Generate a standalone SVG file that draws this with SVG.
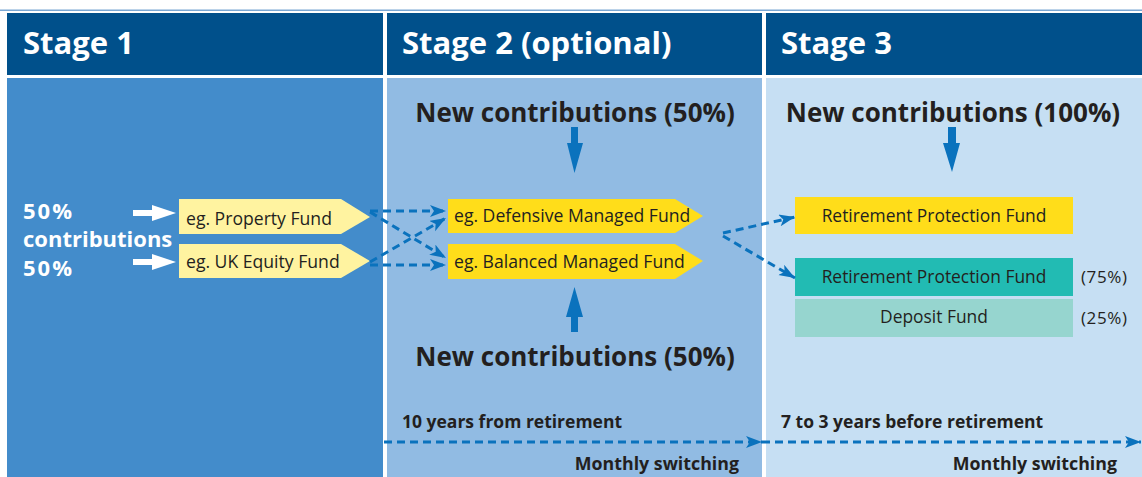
<svg xmlns="http://www.w3.org/2000/svg" width="1142" height="477" viewBox="0 0 1142 477">
<style>
.hdr{fill:#00508b}
.htxt{font-family:"Open Sans","Noto Sans",sans-serif;font-weight:bold;font-size:31px;fill:#ffffff}
.big{font-family:"Open Sans","Noto Sans",sans-serif;font-weight:bold;font-size:26px;fill:#231f20;text-anchor:middle}
.fund{font-family:"Open Sans","Noto Sans",sans-serif;font-size:17.6px;fill:#231f20}
.fundc{font-family:"Open Sans","Noto Sans",sans-serif;font-size:17.4px;fill:#231f20;text-anchor:middle}
.pct{font-family:"Open Sans","Noto Sans",sans-serif;font-size:17px;fill:#231f20;letter-spacing:0.6px}
.lab{font-family:"Open Sans","Noto Sans",sans-serif;font-weight:bold;font-size:17.5px;fill:#231f20}
.labr{font-family:"Open Sans","Noto Sans",sans-serif;font-weight:bold;font-size:17.8px;fill:#231f20;text-anchor:end}
.wlab{font-family:"Open Sans","Noto Sans",sans-serif;font-weight:bold;font-size:22px;fill:#ffffff}
.dash{fill:none;stroke:#0a72bd;stroke-width:3;stroke-dasharray:8 5;marker-end:url(#ah)}
.solid{fill:#0a72bd}
</style>
<defs>
<marker id="ah" markerUnits="userSpaceOnUse" markerWidth="20" markerHeight="16" refX="16" refY="6" orient="auto">
<path d="M0,0 L16,6 L0,12 L4,6 Z" fill="#0a72bd"/>
</marker>
</defs>
<rect x="0" y="0" width="1142" height="477" fill="#ffffff"/>
<rect x="0" y="9.5" width="1142" height="1.5" fill="#7ba7d3"/>
<g id="columns">
<rect x="7" y="13" width="376" height="62" class="hdr"/>
<rect x="387" y="13" width="375" height="62" class="hdr"/>
<rect x="766" y="13" width="376" height="62" class="hdr"/>
<rect x="7" y="78" width="376" height="399" fill="#438ccb"/>
<rect x="387" y="78" width="375" height="399" fill="#91bbe3"/>
<rect x="766" y="78" width="376" height="399" fill="#c6dff3"/>
<text x="23" y="54" class="htxt">Stage 1</text>
<text x="402" y="54" class="htxt">Stage 2 (optional)</text>
<text x="781" y="54" class="htxt">Stage 3</text>
</g>
<g id="stage1-label">
<text x="23" y="219" class="wlab" letter-spacing="2">50%</text>
<text x="23" y="247" class="wlab">contributions</text>
<text x="23" y="276" class="wlab" letter-spacing="2">50%</text>
<polygon points="133,210 152,210 152,205 176,213 152,221 152,216 133,216" fill="#ffffff"/>
<polygon points="133,259 152,259 152,254 176,262 152,270 152,265 133,265" fill="#ffffff"/>
</g>
<g id="property-fund">
<polygon points="179,199 341,199 370,217 341,234 179,234" fill="#fff3a0"/>
<text x="186" y="225" class="fund">eg. Property Fund</text>
</g>
<g id="uk-equity-fund">
<polygon points="179,244 341,244 370,261 341,278 179,278" fill="#fff3a0"/>
<text x="186" y="268" class="fund">eg. UK Equity Fund</text>
</g>
<g id="defensive-fund">
<polygon points="448,199 675,199 703,216 675,233 448,233" fill="#ffdd1a"/>
<text x="454" y="222" class="fund">eg. Defensive Managed Fund</text>
</g>
<g id="balanced-fund">
<polygon points="448,244 675,244 703,261 675,279 448,279" fill="#ffdd1a"/>
<text x="454" y="268" class="fund">eg. Balanced Managed Fund</text>
</g>
<g id="new-contrib-top">
<text x="575" y="122" class="big">New contributions (50%)</text>
</g>
<g id="new-contrib-bottom">
<text x="575" y="366" class="big">New contributions (50%)</text>
</g>
<g id="new-contrib-stage3">
<text x="953" y="122" class="big">New contributions (100%)</text>
</g>
<g id="rpf">
<rect x="795" y="197" width="278" height="37" fill="#ffdd1a"/>
<text x="934" y="222" class="fundc">Retirement Protection Fund</text>
</g>
<g id="rpf75">
<rect x="795" y="258" width="278" height="38" fill="#22bbb3"/>
<text x="934" y="283" class="fundc">Retirement Protection Fund</text>
<text x="1081" y="283" class="pct">(75%)</text>
</g>
<g id="deposit">
<rect x="795" y="299" width="278" height="38" fill="#96d5cf"/>
<text x="934" y="323" class="fundc">Deposit Fund</text>
<text x="1081" y="324" class="pct">(25%)</text>
</g>
<g id="timeline">
<text x="402" y="428" class="lab">10 years from retirement</text>
<text x="739" y="470" class="labr">Monthly switching</text>
<text x="781" y="428" class="lab">7 to 3 years before retirement</text>
<text x="1117" y="470" class="labr">Monthly switching</text>
</g>
<g id="connectors">
<polygon points="571,127 578,127 578,143 583,143 574.5,173 567,143 571,143" class="solid"/>
<polygon points="571,332 578,332 578,317 583,317 574.5,287 566,317 571,317" class="solid"/>
<polygon points="948,127 956,127 956,143 960,143 952,172 943,143 948,143" class="solid"/>
<path d="M370,211 L446,211" class="dash"/>
<path d="M370,212 L446,258" class="dash"/>
<path d="M370,262 L446,218" class="dash"/>
<path d="M370,265 L446,265" class="dash"/>
<path d="M723,233 L795,217" class="dash"/>
<path d="M723,236 L795,278" class="dash"/>
<path d="M384,442 L762,442" class="dash"/>
<path d="M762,442 L1141,442" class="dash"/>
</g>
</svg>
